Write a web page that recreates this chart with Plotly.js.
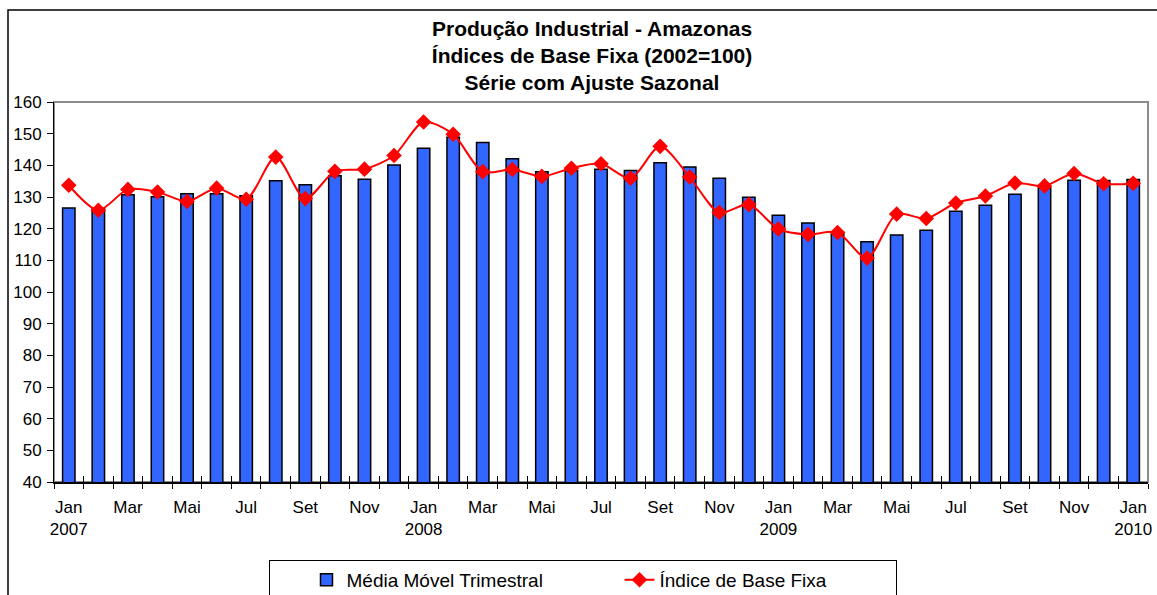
<!DOCTYPE html>
<html>
<head>
<meta charset="utf-8">
<script src="https://cdn.plot.ly/plotly-3.0.1.min.js"></script>
<style>html,body{margin:0;padding:0;background:#fff;}#chart{width:1157px;height:595px;}</style>
</head>
<body>
<div id="chart"></div>
<script>
// Categories (months)
const months = ["Jan","Fev","Mar","Abr","Mai","Jun","Jul","Ago","Set","Out","Nov","Dez"];
const years = [2007, 2008, 2009, 2010];
const categories = [];
years.forEach(function (yr) {
  months.forEach(function (m) {
    if (yr < 2010 || m === "Jan") categories.push(m + " " + yr);
  });
});

// Média Móvel Trimestral (bars)
const mediaMovel = [
  126.5, 126.3, 130.7, 130.1, 131.0, 131.0, 130.4, 135.1, 133.9, 136.7, 135.6, 140.1,
  145.4, 148.9, 147.2, 142.1, 138.0, 138.3, 138.8, 138.4, 140.8, 139.5, 135.9, 129.9,
  124.2, 121.8, 118.9, 115.9, 118.0, 119.5, 125.5, 127.4, 130.9, 132.9, 135.3, 135.2,
  135.5
];

// Índice de Base Fixa (line)
const indiceBase = [
  133.7, 125.8, 132.4, 131.6, 128.6, 132.8, 129.3, 142.6, 129.5, 138.1, 138.8, 143.1,
  153.7, 149.8, 138.0, 138.7, 136.5, 139.1, 140.5, 135.9, 146.0, 136.3, 125.1, 127.6,
  119.9, 118.2, 118.8, 110.7, 124.6, 123.2, 128.1, 130.3, 134.4, 133.5, 137.4, 134.2,
  134.3
];

// Tick labels: every other month, year on a second line for January
const tickText = categories.map(function (c, i) {
  if (i % 2 !== 0) return "";
  const parts = c.split(" ");
  return parts[0] === "Jan" ? parts[0] + "<br>" + parts[1] : parts[0];
});

const FONT = "Arial, 'Liberation Sans', sans-serif";

const traces = [
  {
    type: "bar",
    name: "Média Móvel Trimestral",
    x: categories,
    y: mediaMovel,
    width: 0.42,
    marker: { color: "#3366FF", line: { color: "#000000", width: 1.5 } },
    hoverinfo: "x+y"
  },
  {
    type: "scatter",
    mode: "lines+markers",
    name: "Índice de Base Fixa",
    x: categories,
    y: indiceBase,
    line: { color: "#FF0000", width: 2, shape: "spline", smoothing: 0.8 },
    marker: { symbol: "diamond", size: 12, color: "#FF0000" }
  },
  {
    // helper for inside half of the crossing tick marks
    type: "scatter",
    mode: "markers",
    x: categories,
    y: indiceBase,
    xaxis: "x2",
    marker: { opacity: 0 },
    showlegend: false,
    hoverinfo: "skip"
  }
];

const layout = {
  width: 1157,
  height: 595,
  paper_bgcolor: "#ffffff",
  plot_bgcolor: "#ffffff",
  font: { family: FONT, color: "#000000", size: 17 },
  margin: { l: 54, r: 9, t: 102, b: 113, autoexpand: false },
  title: {
    text: "<b>Produção Industrial - Amazonas<br>Índices de Base Fixa (2002=100)<br>Série com Ajuste Sazonal</b>",
    font: { family: FONT, size: 21, color: "#000000" },
    x: 0.4918, xref: "paper", xanchor: "center",
    y: 0.94, yref: "container", yanchor: "middle"
  },
  bargap: 0.58,
  showlegend: true,
  legend: {
    orientation: "h",
    x: 0.484, xanchor: "center",
    y: -0.205, yanchor: "top",
    bordercolor: "#000000", borderwidth: 1,
    bgcolor: "#ffffff",
    font: { family: FONT, size: 19 },
    entrywidth: 232,
    indentation: 36
  },
  xaxis: {
    type: "category",
    range: [-0.5, categories.length - 0.5],
    tickmode: "array",
    tickvals: categories,
    ticktext: tickText,
    tickson: "boundaries",
    ticks: "outside",
    ticklen: 5,
    tickcolor: "#000000",
    tickwidth: 1,
    ticklabelstandoff: 9,
    showline: true,
    linecolor: "#000000",
    linewidth: 1.5,
    showgrid: false,
    zeroline: false,
    tickfont: { family: FONT, size: 17 },
    tickangle: 0
  },
  xaxis2: {
    type: "category",
    overlaying: "x",
    side: "bottom",
    range: [-0.5, categories.length - 0.5],
    tickmode: "array",
    tickvals: categories,
    ticktext: tickText,
    tickson: "boundaries",
    ticks: "inside",
    ticklen: 6,
    tickcolor: "#000000",
    tickwidth: 1,
    showticklabels: false,
    showline: false,
    showgrid: false,
    zeroline: false
  },
  yaxis: {
    range: [40, 160],
    tickmode: "linear",
    tick0: 40,
    dtick: 10,
    ticks: "outside",
    ticklen: 6,
    tickcolor: "#000000",
    ticklabelstandoff: 2,
    showline: true,
    linecolor: "#000000",
    linewidth: 1,
    showgrid: false,
    zeroline: false,
    tickfont: { family: FONT, size: 17 }
  },
  shapes: [
    {
      // outer chart frame (extends past right and bottom of the picture)
      type: "rect", xref: "paper", yref: "paper",
      x0: -46 / 1094, x1: 1.02, y0: -0.35, y1: 1 + 92 / 380,
      line: { color: "#000000", width: 1.5 }, layer: "below"
    },
    {
      // plot area border (grey)
      type: "rect", xref: "paper", yref: "paper",
      x0: 0, x1: 1, y0: 0, y1: 1,
      line: { color: "#8C8C8C", width: 2 }, layer: "below"
    }
  ]
};

Plotly.newPlot("chart", traces, layout, { displayModeBar: false, staticPlot: true });
</script>
</body>
</html>
